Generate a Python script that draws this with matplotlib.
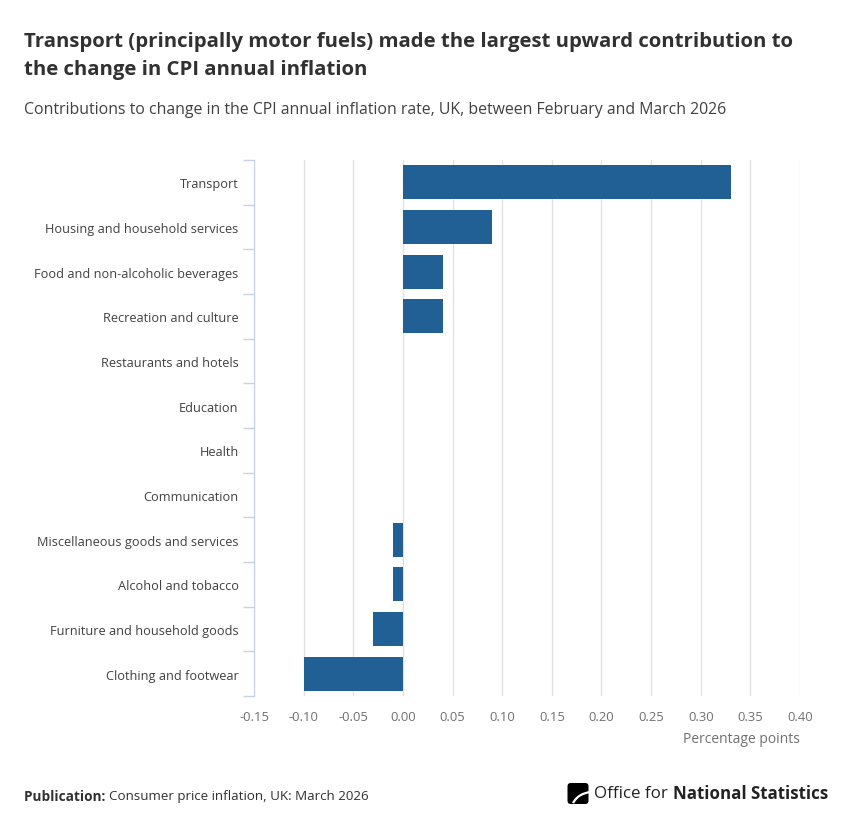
import matplotlib
matplotlib.use('Agg')
import matplotlib.pyplot as plt
import numpy as np
from matplotlib.patches import FancyBboxPatch, Arc

categories = ['Transport', 'Housing and household services', 'Food and non-alcoholic beverages',
              'Recreation and culture', 'Restaurants and hotels', 'Education', 'Health',
              'Communication', 'Miscellaneous goods and services', 'Alcohol and tobacco',
              'Furniture and household goods', 'Clothing and footwear']
values = [0.33, 0.09, 0.04, 0.04, 0.0, 0.0, 0.0, 0.0, -0.01, -0.01, -0.03, -0.10]
xticks = [-0.15, -0.10, -0.05, 0.00, 0.05, 0.10, 0.15, 0.20, 0.25, 0.30, 0.35, 0.40]

plt.rcParams['font.family'] = ['Open Sans', 'DejaVu Sans']

W, H = 852, 828
fig = plt.figure(figsize=(W / 100, H / 100), dpi=100)
fig.patch.set_facecolor('white')

# plot area in pixels
left, right, top, bottom = 254, 800, 161, 697
ax = fig.add_axes([left / W, 1 - bottom / H, (right - left) / W, (bottom - top) / H])

y = np.arange(len(categories))
ax.barh(y, values, height=0.76, color='#206095', zorder=3)
ax.set_ylim(len(categories) - 0.5, -0.5)
ax.set_xlim(-0.15, 0.40)

ax.set_yticks(y)
ax.set_yticklabels(categories, fontsize=9.2, color='#414042')
ax.tick_params(axis='y', which='major', length=0, pad=11)
ax.set_yticks(np.arange(len(categories) + 1) - 0.5, minor=True)
ax.tick_params(axis='y', which='minor', length=8, color='#c8d0e4', width=1)

ax.set_xticks(xticks)
ax.set_xticklabels(['%.2f' % v for v in xticks], fontsize=9.4, color='#707071')
ax.tick_params(axis='x', length=0, pad=10)
ax.grid(axis='x', color='#e2e2e3', linewidth=1, zorder=0)

for s in ['top', 'right', 'bottom']:
    ax.spines[s].set_visible(False)
ax.spines['left'].set_color('#c8d0e4')
ax.spines['left'].set_zorder(4)

fig.text(right / W, 1 - 740 / H, 'Percentage points', ha='right', va='center',
         fontsize=10, color='#707071')

# titles
fig.text(24 / W, 1 - 42 / H, 'Transport (principally motor fuels) made the largest upward contribution to',
         fontsize=14.65, fontweight='bold', color='#323132', va='center')
fig.text(24 / W, 1 - 70 / H, 'the change in CPI annual inflation',
         fontsize=14.65, fontweight='bold', color='#323132', va='center')
fig.text(24 / W, 1 - 110 / H,
         'Contributions to change in the CPI annual inflation rate, UK, between February and March 2026',
         fontsize=11.4, color='#414042', va='center')

# footer
renderer = fig.canvas.get_renderer()
t1 = fig.text(24 / W, 1 - 797 / H, 'Publication: ', fontsize=9.8, fontweight='bold',
              color='#323132', va='center')
bb = t1.get_window_extent(renderer)
fig.text(bb.x1 / W, 1 - 797 / H, 'Consumer price inflation, UK: March 2026', fontsize=9.6,
         color='#323132', va='center')

# logo
t2 = fig.text(828 / W, 1 - 794 / H, 'National Statistics', fontsize=12.2, fontweight='bold',
              color='#222222', ha='right', va='center')
bb2 = t2.get_window_extent(renderer)
t3 = fig.text(bb2.x0 / W, 1 - 794 / H, 'Office for ', fontsize=12.2,
              color='#222222', ha='right', va='center')
bb3 = t3.get_window_extent(renderer)
lx = bb3.x0 - 27
box = FancyBboxPatch((lx / W, (H - 805) / H), 21 / W, 21 / H,
                     boxstyle='round,pad=0,rounding_size=0.004',
                     transform=fig.transFigure, facecolor='black', edgecolor='none')
fig.patches.append(box)
arc = Arc(((lx + 25) / W, (H - 811) / H), 42 / W, 36 / H, theta1=95, theta2=160,
          transform=fig.transFigure, color='white', linewidth=1.6)
fig.patches.append(arc)

fig.savefig('out.png', dpi=100, facecolor='white')
